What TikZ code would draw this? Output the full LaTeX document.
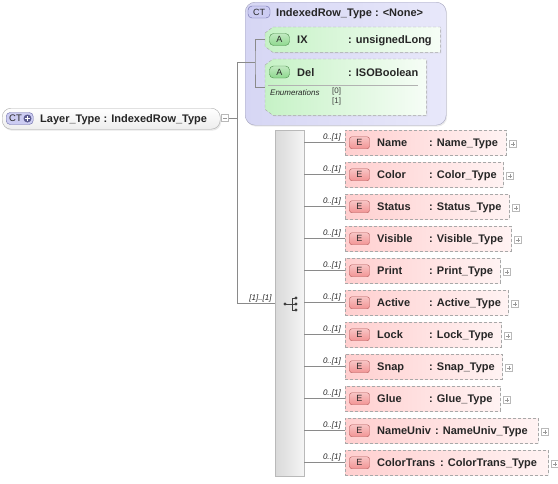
\documentclass[tikz,border=0pt]{standalone}
\usepackage{fontspec}
\setmainfont{Liberation Sans}
\usetikzlibrary{shadows}
\definecolor{linegray}{HTML}{8A8A8A}
\definecolor{dashgray}{HTML}{A8A8A8}
\definecolor{ctleft}{HTML}{D6D6F4}
\definecolor{ctright}{HTML}{E8E8FA}
\definecolor{ctborder}{HTML}{A4A4BC}
\definecolor{badgect}{HTML}{CCCCF2}
\definecolor{badgectline}{HTML}{6A6AA8}
\definecolor{attrleft}{HTML}{C6F2C6}
\definecolor{attrright}{HTML}{F6FDF6}
\definecolor{badgea}{HTML}{8ED88E}
\definecolor{badgealine}{HTML}{4C8C4C}
\definecolor{elleft}{HTML}{FFCFCF}
\definecolor{elright}{HTML}{FFF3F3}
\definecolor{badgee}{HTML}{F29494}
\definecolor{badgeeline}{HTML}{B45A5A}
\newcommand\attroutline[1]{%
  \path[draw=dashgray, dash pattern=on 3pt off 2pt, left color=attrleft, right color=attrright,
        drop shadow={opacity=0.12, shadow xshift=1pt, shadow yshift=-1pt}]
    ([yshift=-6pt]#1.north west) -- ([xshift=8pt]#1.north west) -- (#1.north east)
    -- (#1.south east) -- ([xshift=8pt]#1.south west) -- ([yshift=6pt]#1.south west) -- cycle;}
\begin{document}
\begin{tikzpicture}[x=1pt, y=-1pt,
    conn/.style={draw=linegray, line width=0.6pt},
    title/.style={font=\fontsize{11}{13}\selectfont\bfseries, text=black!85, inner sep=0pt, anchor=base west},
    card/.style={font=\fontsize{8}{9}\selectfont\itshape, text=black!85, inner sep=0pt, anchor=base east},
    small/.style={font=\fontsize{8}{9}\selectfont, text=black!75, inner sep=0pt, anchor=base west},
    badge/.style={draw, rounded corners=2.5pt, minimum width=20pt, minimum height=12pt, inner sep=0pt,
        font=\fontsize{9}{10}\selectfont, text=black!85},
    ebadge/.style={badge, draw=badgeeline, top color=badgee!55, bottom color=badgee},
    abadge/.style={badge, draw=badgealine, top color=badgea!55, bottom color=badgea, rounded corners=4pt},
    ctbadge/.style={badge, draw=badgectline, fill=badgect, rounded corners=4pt},
    elbox/.style={draw=dashgray, dash pattern=on 3pt off 2pt, left color=elleft, right color=elright,
        minimum height=25pt, inner sep=0pt, anchor=north west,
        drop shadow={opacity=0.12, shadow xshift=1pt, shadow yshift=-1pt}},
    togglebox/.style={draw=gray!55, fill=white, minimum size=7pt, inner sep=0pt},
    plusbox/.style={togglebox, path picture={\draw[gray!80]
        ([xshift=-2pt]path picture bounding box.center) -- ([xshift=2pt]path picture bounding box.center)
        ([yshift=-2pt]path picture bounding box.center) -- ([yshift=2pt]path picture bounding box.center);}},
    minusbox/.style={togglebox, path picture={\draw[gray!80]
        ([xshift=-2pt]path picture bounding box.center) -- ([xshift=2pt]path picture bounding box.center);}}
]
    \useasboundingbox (0,0) rectangle (558,483);

    \node[draw=gray!65, rounded corners=9pt, top color=white, bottom color=gray!14,
          minimum width=218pt, minimum height=21pt, anchor=north west,
          drop shadow={opacity=0.18, shadow xshift=1pt, shadow yshift=-1.5pt}] (root) at (2,108) {};
    \node[ctbadge, minimum width=27pt, minimum height=12pt, anchor=west] (rootbadge) at (6,118.5) {};
    \node[inner sep=0pt, font=\fontsize{9.5}{10}\selectfont, text=black!85] (rootct) at (15.5,118.5) {CT};
    \node[circle, fill=badgectline!85!black, minimum size=8pt, inner sep=0pt] (rootplus) at (27.5,118.5) {};
    \draw[white, line width=1.2pt] ([xshift=-2.5pt]rootplus.center) -- ([xshift=2.5pt]rootplus.center)
        ([yshift=-2.5pt]rootplus.center) -- ([yshift=2.5pt]rootplus.center);
    \node[title] (rootname) at (40,122.5) {Layer\_Type : IndexedRow\_Type};
    \node[minusbox] (rootmin) at (225,118) {};

    \node[draw=ctborder, rounded corners=10pt, left color=ctleft, right color=ctright,
          minimum width=201pt, minimum height=123pt, anchor=north west,
          drop shadow={opacity=0.15, shadow xshift=1pt, shadow yshift=-1.5pt}] (ct) at (245,2) {};
    \node[ctbadge, minimum width=22pt] (ctbadgeA) at (259,12) {CT};
    \node[title] (ctname) at (276,16) {IndexedRow\_Type : <None>};

    \node[minimum width=175pt, minimum height=25pt, inner sep=0pt, anchor=north west] (ix) at (265,27) {};
    \attroutline{ix}
    \node[abadge] (ixbadge) at (279.5,39.5) {A};
    \node[title] (ixname) at (297,43.5) {IX};
    \node[title] (ixtype) at (348,43.5) {: unsignedLong};

    \node[minimum width=161pt, minimum height=56pt, inner sep=0pt, anchor=north west] (del) at (265,59) {};
    \attroutline{del}
    \node[abadge] (delbadge) at (279.5,72) {A};
    \node[title] (delname) at (297,76) {Del};
    \node[title] (deltype) at (348,76) {: ISOBoolean};
    \draw[gray!60] (268,85) -- (418,85);
    \node[small, font=\fontsize{8}{9}\selectfont\itshape, text=black!85] (enumlabel) at (270,95.5) {Enumerations};
    \node[small] (enum0) at (332,93.5) {[0]};
    \node[small] (enum1) at (332,103) {[1]};

    \node[draw=gray!55, left color=gray!30, right color=gray!8, minimum width=29pt, minimum height=346pt,
          inner sep=0pt, drop shadow={opacity=0.15, shadow xshift=1pt, shadow yshift=-1pt}] (seq) at (289.5,303) {};
    \begin{scope}[shift={(seq.center)}]
        \draw[black!75, line width=0.8pt] (-4.5,1) -- (2.5,1) (2.5,-5) -- (2.5,7)
            (2.5,-5) -- (6.5,-5) (2.5,7) -- (6.5,7) (2.5,1) -- (6.5,1);
        \fill[black!75] (-4.5,1) circle (1.7pt) (6.5,-5) circle (1.7pt) (6.5,1) circle (1.7pt) (6.5,7) circle (1.7pt);
    \end{scope}
    \node[card] (seqcard) at ([xshift=-3pt, yshift=3pt]seq.west) {[1]..[1]};

    \coordinate (split) at (237,118);
    \coordinate (attrsplit) at (255,62);
    \draw[conn] (rootmin.east) -- (split);
    \draw[conn] (split |- attrsplit) -- (split |- seq.west) -- (seq.west);
    \draw[conn] (split |- attrsplit) -- (attrsplit);
    \draw[conn] (ix.west) -| (attrsplit) |- (del.west);

    \foreach \n/\t/\r/\c [count=\i from 0] in {Name/Name\_Type/506/429, Color/Color\_Type/503/429,
        Status/Status\_Type/509/429, Visible/Visible\_Type/511/429, Print/Print\_Type/500/429,
        Active/Active\_Type/508/429, Lock/Lock\_Type/501/429, Snap/Snap\_Type/502/429,
        Glue/Glue\_Type/500/429, NameUniv/NameUniv\_Type/538/435, ColorTrans/ColorTrans\_Type/548/440}
    {
        \node[elbox, minimum width={(\r-345)*1pt}] (el-\i) at (345,{130+32*\i}) {};
        \node[ebadge] (eb-\i) at ([xshift=14.5pt]el-\i.west) {E};
        \node[title] (en-\i) at ([xshift=32pt, yshift=-4pt]el-\i.west) {\n};
        \node[title] (et-\i) at (\c,{146.5+32*\i}) {: \t};
        \node[plusbox] (ep-\i) at ([xshift=6.5pt, yshift=-1pt]el-\i.east) {};
        \draw[conn] (seq.east |- el-\i.west) -- (el-\i.west);
        \node[card] (ec-\i) at ([xshift=-4pt, yshift=3pt]el-\i.west) {0..[1]};
    }
\end{tikzpicture}
\end{document}
